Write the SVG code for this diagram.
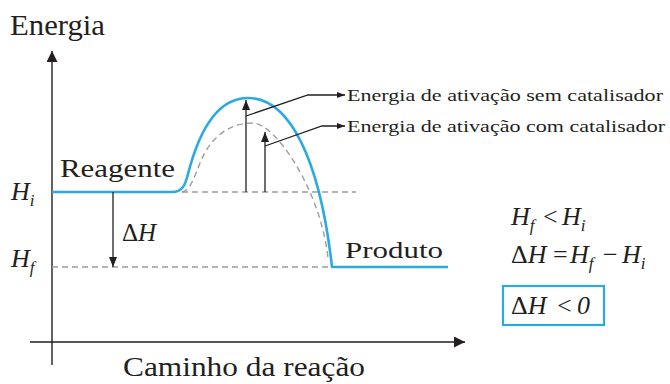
<svg xmlns="http://www.w3.org/2000/svg" width="670" height="384" viewBox="0 0 670 384">
<defs>
<style>
.t{font-family:"Liberation Serif","Times New Roman",serif;fill:#231f20}
.it{font-style:italic}
.ax{stroke:#231f20;stroke-width:1.4;fill:none}
.ln{stroke:#231f20;stroke-width:1.3;fill:none}
.blue{stroke:#29abe2;stroke-width:2.6;fill:none;stroke-linejoin:round}
.dash{stroke:#9d9d9d;stroke-width:1.4;fill:none;stroke-dasharray:6 4}
</style>
<marker id="ah" viewBox="0 0 10 10" refX="10" refY="5" markerWidth="11" markerHeight="11" markerUnits="userSpaceOnUse" orient="auto"><path d="M0,0 L10,5 L0,10 z" fill="#231f20"/></marker>
<marker id="as" viewBox="0 0 10 8" refX="10" refY="4" markerWidth="10" markerHeight="8" markerUnits="userSpaceOnUse" orient="auto"><path d="M0,0 L10,4 L0,8 z" fill="#231f20"/></marker>
<marker id="al" viewBox="0 0 8 6" refX="8" refY="3" markerWidth="8" markerHeight="6" markerUnits="userSpaceOnUse" orient="auto"><path d="M0,0 L8,3 L0,6 z" fill="#231f20"/></marker>
</defs>
<rect width="670" height="384" fill="#ffffff"/>

<g id="axes">
<line class="ax" x1="52" y1="365" x2="52" y2="51" marker-end="url(#ah)"/>
<line class="ax" x1="30" y1="342" x2="465" y2="342" marker-end="url(#ah)"/>
<text class="t" x="10" y="35" font-size="30" textLength="95" lengthAdjust="spacingAndGlyphs">Energia</text>
<text class="t" x="123" y="376" font-size="27" textLength="242" lengthAdjust="spacingAndGlyphs">Caminho da reação</text>
</g>

<g id="levels">
<line class="dash" x1="182" y1="192" x2="356" y2="192"/>
<line class="dash" x1="52" y1="267" x2="332" y2="267"/>
</g>

<g id="curve-uncatalysed">
<path class="blue" d="M52,192 L172,192 C182,192 185,186 188,174 C198,135 215,98 248,98 C290,98 320,160 332,267 L448,267"/>
</g>

<g id="curve-catalysed">
<path class="dash" d="M182,192 C190,191 194,178 200,163 C210,138 228,123 253,123 C274,123 320,187 328,258"/>
</g>

<g id="label-reagente">
<text class="t" x="60" y="177" font-size="25" textLength="115" lengthAdjust="spacingAndGlyphs">Reagente</text>
</g>
<g id="label-produto">
<text class="t" x="345" y="258" font-size="24" textLength="98" lengthAdjust="spacingAndGlyphs">Produto</text>
</g>

<g id="label-Hi">
<text class="t it" x="11" y="200" font-size="26">H<tspan font-size="17" dy="6">i</tspan></text>
</g>
<g id="label-Hf">
<text class="t it" x="11" y="267" font-size="26">H<tspan font-size="17" dy="6">f</tspan></text>
</g>
<g id="label-deltaH">
<text class="t" x="122" y="241" font-size="25">Δ<tspan class="it">H</tspan></text>
</g>

<g id="label-ea-sem">
<text class="t" x="347" y="101" font-size="17" textLength="316" lengthAdjust="spacingAndGlyphs">Energia de ativação sem catalisador</text>
</g>
<g id="label-ea-com">
<text class="t" x="347" y="132" font-size="17" textLength="318" lengthAdjust="spacingAndGlyphs">Energia de ativação com catalisador</text>
</g>

<g id="equations">
<text class="t it" font-size="26" x="511" y="225">H<tspan font-size="17" dy="6">f</tspan><tspan class="t" font-style="normal" x="543" dy="-6">&lt;</tspan><tspan x="562">H</tspan><tspan font-size="17" dy="6">i</tspan></text>
<text class="t" font-size="26" x="511" y="263">Δ<tspan class="it">H</tspan><tspan x="553">=</tspan><tspan class="it" x="570">H</tspan><tspan class="it" font-size="17" dy="6">f</tspan><tspan x="603" dy="-6">−</tspan><tspan class="it" x="622">H</tspan><tspan class="it" font-size="17" dy="6">i</tspan></text>
</g>
<g id="result-box">
<rect x="503" y="286" width="101" height="39" fill="none" stroke="#29abe2" stroke-width="2.2"/>
<text class="t" font-size="26" x="511" y="314">Δ<tspan class="it">H</tspan><tspan x="557">&lt;</tspan><tspan class="it" x="577">0</tspan></text>
</g>

<g id="connectors">
<line class="ln" x1="113" y1="192" x2="113" y2="267" marker-end="url(#as)"/>
<line class="ln" x1="246" y1="192" x2="246" y2="100" marker-end="url(#as)"/>
<line class="ln" x1="265" y1="192" x2="265" y2="132" marker-end="url(#as)"/>
<polyline class="ln" points="246,116 308,95 345,95" marker-end="url(#al)"/>
<polyline class="ln" points="265,146 322,126 345,126" marker-end="url(#al)"/>
</g>
</svg>
